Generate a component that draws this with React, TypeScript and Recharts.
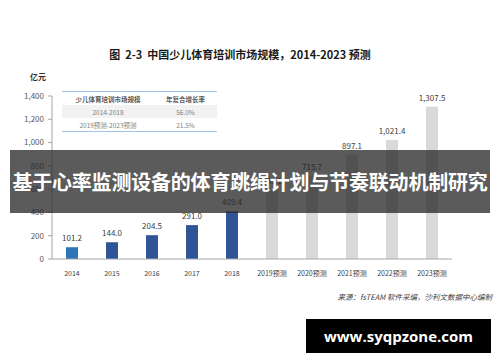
import React from 'react';
import { BarChart, Bar, XAxis, YAxis, Cell, LabelList } from 'recharts';

const categories = ['2014', '2015', '2016', '2017', '2018', '2019预测', '2020预测', '2021预测', '2022预测', '2023预测'];
const marketSize = [101.2, 144.0, 204.5, 291.0, 409.4, 589.1, 715.7, 897.1, 1021.4, 1307.5];
const barColors = ['#2e75b6', '#2f5597', '#2f5597', '#2f5597', '#2f5597', '#d9d9d9', '#d9d9d9', '#d9d9d9', '#d9d9d9', '#d9d9d9'];
const yTicks = [0, 200, 400, 600, 800, 1000, 1200, 1400];

const cagrHeader = ['少儿体育培训市场规模', '年复合增长率'];
const cagrPeriods = ['2014-2018', '2019预测-2023预测'];
const cagrValues = ['56.0%', '21.5%'];

const data = categories.map((name, i) => ({ name, value: marketSize[i] }));

const fmt = (v: number) => v.toLocaleString('en-US');
const fmtLabel = (v: unknown) =>
  Number(v).toLocaleString('en-US', { minimumFractionDigits: 1, maximumFractionDigits: 1 });

const font = '"Noto Sans CJK SC", "Noto Sans", sans-serif';

const App: React.FC = () => {
  return (
    <div style={{ position: 'absolute', left: 0, top: 0, width: 500, height: 362, background: '#fff', fontFamily: font, overflow: 'hidden' }}>
      <div style={{ position: 'absolute', left: 0, width: 480, top: 46, textAlign: 'center', fontSize: 11, fontWeight: 700, color: '#1a1a1a' }}>
        图&nbsp;&nbsp;2-3&nbsp;&nbsp;中国少儿体育培训市场规模，2014-2023 预测
      </div>
      <div style={{ position: 'absolute', left: 30, top: 71, fontSize: 8, fontWeight: 700, color: '#333' }}>亿元</div>

      <BarChart width={500} height={362} data={data} margin={{ top: 96, right: 48, bottom: 73, left: 12 }}>
        <XAxis
          dataKey="name"
          interval={0}
          height={30}
          tick={{ fontSize: 7, fill: '#404040' }}
          tickLine={false}
          axisLine={{ stroke: '#a6a6a6' }}
          tickMargin={6}
        />
        <YAxis
          domain={[0, 1400]}
          ticks={yTicks}
          tickFormatter={fmt}
          tick={{ fontSize: 8, fill: '#595959' }}
          tickSize={4}
          tickMargin={4}
          tickLine={{ stroke: '#a6a6a6' }}
          axisLine={{ stroke: '#a6a6a6' }}
          width={40}
        />
        <Bar dataKey="value" barSize={12} isAnimationActive={false}>
          {data.map((d, i) => (
            <Cell key={d.name} fill={barColors[i]} />
          ))}
          <LabelList dataKey="value" position="top" offset={6} formatter={fmtLabel} style={{ fontSize: 8, fill: '#404040' }} />
        </Bar>
      </BarChart>

      <div style={{ position: 'absolute', left: 62, top: 91, width: 155, borderTop: '1px solid #9dc3e6', borderBottom: '1px solid #9dc3e6', fontSize: 6.5, color: '#7f7f7f' }}>
        <div style={{ display: 'flex', height: 13, alignItems: 'center', fontWeight: 700, color: '#595959' }}>
          <div style={{ width: 92, textAlign: 'center' }}>{cagrHeader[0]}</div>
          <div style={{ width: 63, textAlign: 'center' }}>{cagrHeader[1]}</div>
        </div>
        {cagrPeriods.map((p, i) => (
          <div key={p} style={{ display: 'flex', height: 13, alignItems: 'center', background: i === 0 ? '#f2f2f2' : '#fff' }}>
            <div style={{ width: 92, textAlign: 'center' }}>{p}</div>
            <div style={{ width: 63, textAlign: 'center' }}>{cagrValues[i]}</div>
          </div>
        ))}
      </div>

      <div style={{ position: 'absolute', left: 10, top: 150, width: 480, height: 63, background: 'rgba(40,40,40,0.76)', display: 'flex', alignItems: 'center', justifyContent: 'center' }}>
        <span style={{ color: '#fff', fontSize: 20, fontWeight: 700, whiteSpace: 'nowrap', letterSpacing: -0.2 }}>
          基于心率监测设备的体育跳绳计划与节奏联动机制研究
        </span>
      </div>

      <div style={{ position: 'absolute', right: 8, top: 291, fontSize: 7.5, fontStyle: 'italic', color: '#404040' }}>
        来源：fsTEAM 软件采编，沙利文数据中心编制
      </div>

      <div style={{ position: 'absolute', left: 306, top: 319, width: 185, height: 34, background: '#000', color: '#fff', display: 'flex', alignItems: 'center', justifyContent: 'center', fontSize: 15, fontWeight: 700, fontFamily: '"Open Sans", sans-serif' }}>
        www.syqpzone.com
      </div>
    </div>
  );
};

export default App;
